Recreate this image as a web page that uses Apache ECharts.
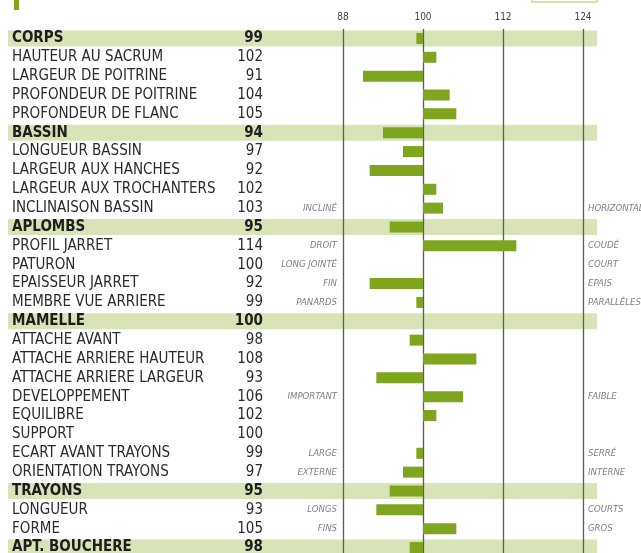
<!DOCTYPE html>
<html>
<head>
<meta charset="utf-8">
<script src="https://cdn.jsdelivr.net/npm/echarts@6/dist/echarts.min.js"></script>
<style>
  html, body { margin: 0; padding: 0; background: #fff; }
  #chart { width: 641px; height: 553px; }
</style>
</head>
<body>
<div id="chart"></div>
<script>
// ---- data ----
const names = [
  'CORPS', 'HAUTEUR AU SACRUM', 'LARGEUR DE POITRINE', 'PROFONDEUR DE POITRINE', 'PROFONDEUR DE FLANC',
  'BASSIN', 'LONGUEUR BASSIN', 'LARGEUR AUX HANCHES', 'LARGEUR AUX TROCHANTERS', 'INCLINAISON BASSIN',
  'APLOMBS', 'PROFIL JARRET', 'PATURON', 'EPAISSEUR JARRET', 'MEMBRE VUE ARRIERE',
  'MAMELLE', 'ATTACHE AVANT', 'ATTACHE ARRIERE HAUTEUR', 'ATTACHE ARRIERE LARGEUR', 'DEVELOPPEMENT',
  'EQUILIBRE', 'SUPPORT', 'ECART AVANT TRAYONS', 'ORIENTATION TRAYONS',
  'TRAYONS', 'LONGUEUR', 'FORME', 'APT. BOUCHERE'
]
const values = [
  99, 102, 91, 104, 105,
  94, 97, 92, 102, 103,
  95, 114, 100, 92, 99,
  100, 98, 108, 93, 106,
  102, 100, 99, 97,
  95, 93, 105, 98
]
const groups = ['CORPS', 'BASSIN', 'APLOMBS', 'MAMELLE', 'TRAYONS', 'APT. BOUCHERE']
const leftHints = {
  'INCLINAISON BASSIN': 'INCLINÉ', 'PROFIL JARRET': 'DROIT', 'PATURON': 'LONG JOINTÉ',
  'EPAISSEUR JARRET': 'FIN', 'MEMBRE VUE ARRIERE': 'PANARDS', 'DEVELOPPEMENT': 'IMPORTANT',
  'ECART AVANT TRAYONS': 'LARGE', 'ORIENTATION TRAYONS': 'EXTERNE', 'LONGUEUR': 'LONGS', 'FORME': 'FINS'
}
const rightHints = {
  'INCLINAISON BASSIN': 'HORIZONTAL', 'PROFIL JARRET': 'COUDÉ', 'PATURON': 'COURT',
  'EPAISSEUR JARRET': 'EPAIS', 'MEMBRE VUE ARRIERE': 'PARALLÈLES', 'DEVELOPPEMENT': 'FAIBLE',
  'ECART AVANT TRAYONS': 'SERRÉ', 'ORIENTATION TRAYONS': 'INTERNE', 'LONGUEUR': 'COURTS', 'FORME': 'GROS'
}
const base = 100
const ticks = [88, 100, 112, 124]

const GREEN = '#7fa51e'
const BAND = '#d8e3b8'
const FONT = '"DejaVu Sans Condensed", "Liberation Sans Narrow", sans-serif'
const HINT_FONT = '"Liberation Sans Narrow", "DejaVu Sans Condensed", sans-serif'

const chart = echarts.init(document.getElementById('chart'))

const gridTop = 29
const gridBottom = -4

chart.setOption({
  animation: false,
  textStyle: { fontFamily: FONT },
  graphic: [
    { type: 'rect', shape: { x: 14, y: 0, width: 5, height: 10 }, style: { fill: GREEN } },
    { type: 'rect', shape: { x: 532, y: -2, width: 65, height: 4 }, style: { fill: '#fff', stroke: '#c8dc8c', lineWidth: 1.5 } },
  ],
  grid: [
    { left: 343, right: 58, top: gridTop, bottom: gridBottom, outerBoundsMode: 'none' },
    { left: 8, right: 44, top: gridTop, bottom: gridBottom, outerBoundsMode: 'none' },
  ],
  xAxis: [
    {
      gridIndex: 0,
      type: 'value',
      position: 'top',
      min: ticks[0] - base,
      max: ticks[ticks.length - 1] - base,
      interval: 12,
      axisLine: { show: false },
      axisTick: { show: false },
      axisLabel: {
        margin: 7,
        fontSize: 10,
        color: '#444',
        fontFamily: HINT_FONT,
        formatter: (v) => String(v + base),
      },
      splitLine: { lineStyle: { color: '#5c5c5c', width: 1.3 } },
      z: 3,
    },
    { gridIndex: 1, type: 'value', min: 0, max: 1, show: false },
  ],
  yAxis: [
    {
      gridIndex: 0,
      type: 'category',
      data: names,
      inverse: true,
      axisLine: { show: false },
      axisTick: { show: false },
      splitLine: { show: false },
      axisLabel: {
        interval: 0,
        align: 'left',
        margin: 331,
        formatter: (name, i) => {
          const g = groups.includes(name)
          const n = g ? 'nb' : 'n'
          const v = g ? 'vb' : 'v'
          return `{${n}|${name}}{${v}|${values[i]}}{h|${leftHints[name] || ''}}`
        },
        rich: {
          n: { width: 220, align: 'left', fontSize: 15, color: '#2b2b2b', fontFamily: FONT },
          nb: { width: 220, align: 'left', fontSize: 15, fontWeight: 'bold', color: '#1e1e1e', fontFamily: FONT },
          v: { width: 31, align: 'right', fontSize: 15, color: '#2b2b2b', fontFamily: FONT },
          vb: { width: 31, align: 'right', fontSize: 15, fontWeight: 'bold', color: '#1e1e1e', fontFamily: FONT },
          h: { width: 74, align: 'right', fontSize: 9.5, fontStyle: 'italic', color: '#808080', fontFamily: HINT_FONT },
        },
      },
    },
    {
      gridIndex: 0,
      type: 'category',
      data: names,
      inverse: true,
      position: 'right',
      axisLine: { show: false },
      axisTick: { show: false },
      axisLabel: {
        interval: 0,
        margin: 5,
        fontSize: 9.5,
        fontStyle: 'italic',
        color: '#808080',
        fontFamily: HINT_FONT,
        formatter: (name) => rightHints[name] || '',
      },
    },
    { gridIndex: 1, type: 'category', data: names, inverse: true, show: false },
  ],
  series: [
    {
      name: 'bande',
      type: 'bar',
      xAxisIndex: 1,
      yAxisIndex: 2,
      data: names.map((n) => (groups.includes(n) ? 1 : '-')),
      barWidth: 16,
      itemStyle: { color: BAND },
      silent: true,
      z: 0,
    },
    {
      name: 'index',
      type: 'bar',
      xAxisIndex: 0,
      yAxisIndex: 0,
      data: values.map((v) => v - base),
      barWidth: 11,
      itemStyle: { color: GREEN },
      z: 4,
    },
  ],
})
</script>
</body>
</html>
